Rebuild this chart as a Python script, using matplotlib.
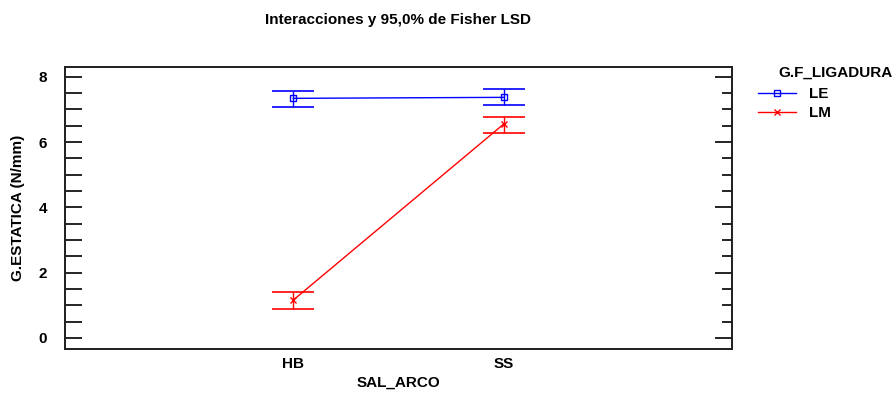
import matplotlib
matplotlib.use("Agg")
import matplotlib.pyplot as plt
from matplotlib.ticker import MultipleLocator, FuncFormatter

plt.rcParams['font.family'] = ['Liberation Sans', 'DejaVu Sans']
plt.rcParams['font.weight'] = 'bold'

categories = ["HB", "SS"]
series_names = ["LE", "LM"]
le_means = [7.34, 7.37]
le_low = [7.07, 7.13]
le_high = [7.58, 7.63]
lm_means = [1.16, 6.55]
lm_low = [0.90, 6.28]
lm_high = [1.40, 6.78]

fig = plt.figure(figsize=(8.96, 3.94), dpi=100)
ax = fig.add_axes([65/896, 1-349/394, (732-65)/896, (349-67)/394])

x = list(range(len(categories)))
handles = []
for means, lo, hi, col, mk, name in [
    (le_means, le_low, le_high, '#0000FF', 's', series_names[0]),
    (lm_means, lm_low, lm_high, '#FF0000', 'x', series_names[1]),
]:
    yerr = [[m - l for m, l in zip(means, lo)], [h - m for m, h in zip(means, hi)]]
    ax.errorbar(x, means, yerr=yerr, fmt='none', ecolor=col, elinewidth=1,
                capsize=15, capthick=1.2)
    h, = ax.plot(x, means, color=col, lw=1, marker=mk, markersize=4,
                 markerfacecolor='none', markeredgecolor=col, markeredgewidth=1,
                 label=name)
    handles.append(h)

ax.set_xlim(-1.086, 2.086)
ax.set_ylim(-0.34, 8.3)
ax.set_xticks(x)
ax.set_xticklabels(categories, fontsize=11, fontweight='bold')
ax.tick_params(axis='x', length=0, pad=6)

# left axis: ticks every 0.5, all the same length, labels on even integers
ax.yaxis.set_major_locator(MultipleLocator(0.5))
ax.yaxis.set_major_formatter(FuncFormatter(
    lambda v, p: f"{int(round(v))}" if abs(v / 2 - round(v / 2)) < 1e-6 else ""))
ax.tick_params(axis='y', which='major', direction='in', length=12, width=1.2,
               left=True, right=False, labelsize=11, pad=13)
for lab in ax.get_yticklabels():
    lab.set_fontweight('bold')

# right axis: major every 2, minor every 0.5
tw = ax.twinx()
tw.set_ylim(ax.get_ylim())
tw.yaxis.set_major_locator(MultipleLocator(2))
tw.yaxis.set_minor_locator(MultipleLocator(0.5))
tw.tick_params(axis='y', which='major', direction='in', length=12, width=1.2,
               right=True, labelright=False)
tw.tick_params(axis='y', which='minor', direction='in', length=7, width=1.2,
               right=True)

for a in (ax, tw):
    for s in a.spines.values():
        s.set_linewidth(1.3)
        s.set_color('#222222')

ax.set_xlabel("SAL_ARCO", fontsize=11, fontweight='bold', labelpad=3)
ax.set_ylabel("G.ESTATICA (N/mm)", fontsize=11, fontweight='bold', labelpad=10)
fig.text(398/896, 1-20/394, "Interacciones y 95,0% de Fisher LSD", ha='center',
         va='center', fontsize=11, fontweight='bold')

fig.text(778/896, 1-73/394, "G.F_LIGADURA", ha='left', va='center', fontsize=11,
         fontweight='bold')
leg = fig.legend(handles=handles, loc='upper left', bbox_to_anchor=(752/896, 1-81/394),
                 frameon=False, fontsize=11, handlelength=2.5, handletextpad=0.85,
                 labelspacing=0.35, borderaxespad=0)
for t in leg.get_texts():
    t.set_fontweight('bold')

fig.savefig("out.png", dpi=100)
